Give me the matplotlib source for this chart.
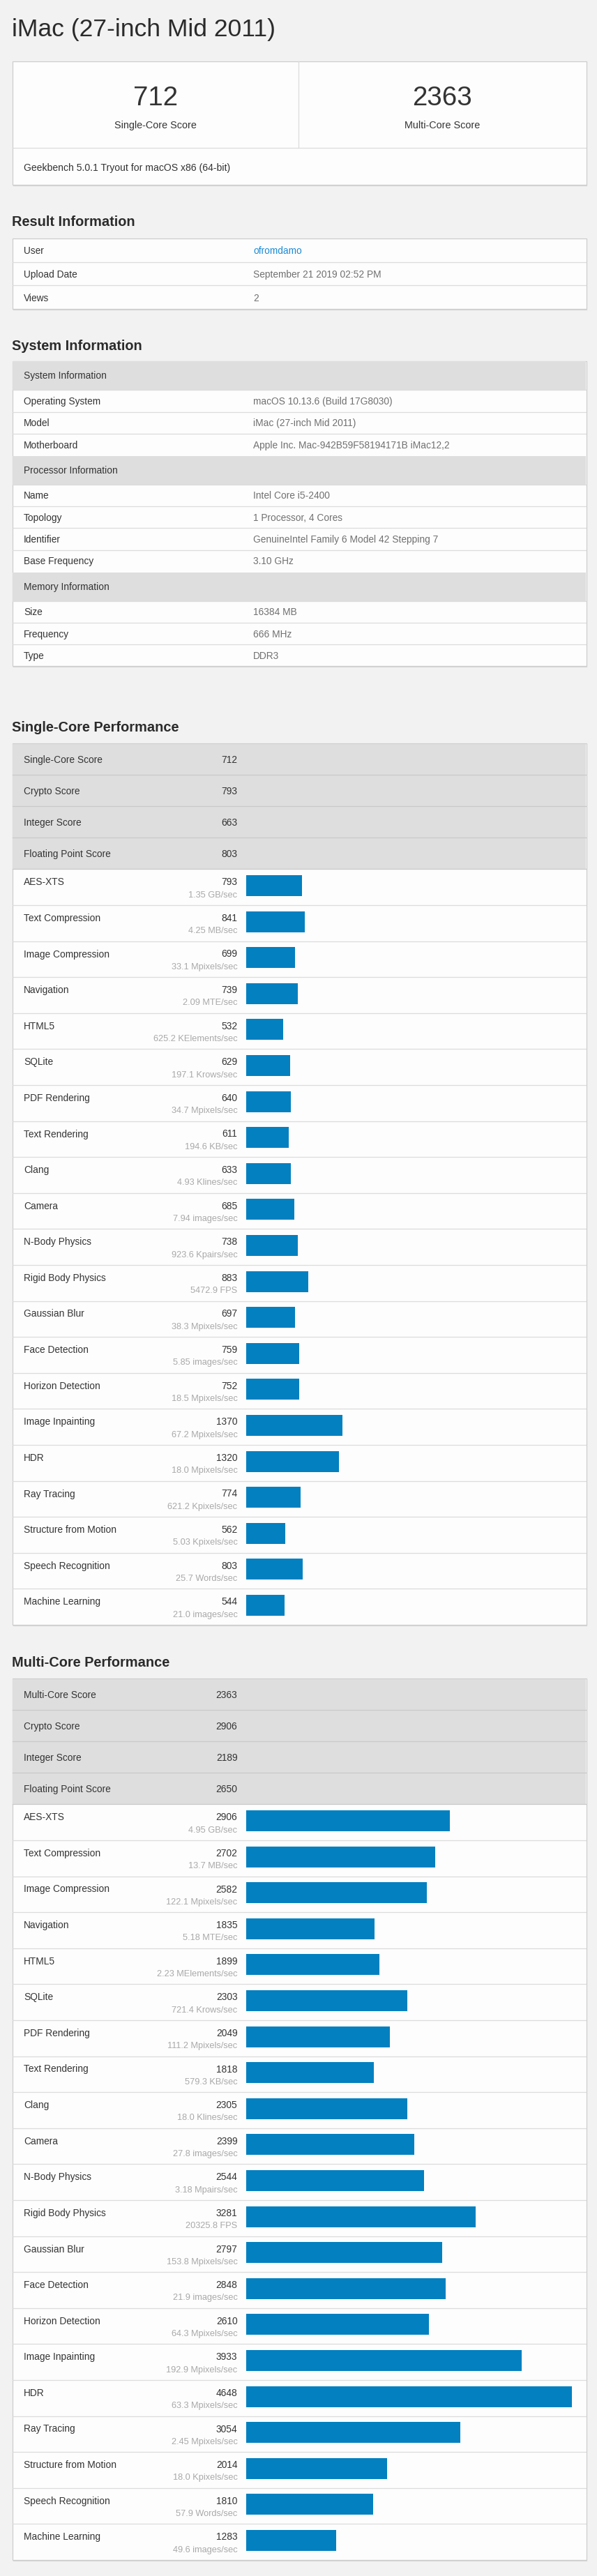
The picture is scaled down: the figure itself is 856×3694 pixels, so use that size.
import matplotlib
matplotlib.use('Agg')
import matplotlib.pyplot as plt
from matplotlib.patches import Rectangle

# Fonts: Helvetica-like page
plt.rcParams['font.family'] = ['Liberation Sans', 'DejaVu Sans']

# ---- data -------------------------------------------------------------
page_title = 'iMac (27-inch Mid 2011)'
single_score = 712
multi_score = 2363
version_text = 'Geekbench 5.0.1 Tryout for macOS x86 (64-bit)'

result_labels = ['User', 'Upload Date', 'Views']
result_values = ['ofromdamo', 'September 21 2019 02:52 PM', '2']

# (label, value); value None marks a grey header row
system_rows = [
    ('System Information', None),
    ('Operating System', 'macOS 10.13.6 (Build 17G8030)'),
    ('Model', 'iMac (27-inch Mid 2011)'),
    ('Motherboard', 'Apple Inc. Mac-942B59F58194171B iMac12,2'),
    ('Processor Information', None),
    ('Name', 'Intel Core i5-2400'),
    ('Topology', '1 Processor, 4 Cores'),
    ('Identifier', 'GenuineIntel Family 6 Model 42 Stepping 7'),
    ('Base Frequency', '3.10 GHz'),
    ('Memory Information', None),
    ('Size', '16384 MB'),
    ('Frequency', '666 MHz'),
    ('Type', 'DDR3'),
]

summary_names_single = ['Single-Core Score', 'Crypto Score', 'Integer Score', 'Floating Point Score']
summary_single = [712, 793, 663, 803]
summary_names_multi = ['Multi-Core Score', 'Crypto Score', 'Integer Score', 'Floating Point Score']
summary_multi = [2363, 2906, 2189, 2650]

workloads = ['AES-XTS', 'Text Compression', 'Image Compression', 'Navigation', 'HTML5',
             'SQLite', 'PDF Rendering', 'Text Rendering', 'Clang', 'Camera',
             'N-Body Physics', 'Rigid Body Physics', 'Gaussian Blur', 'Face Detection',
             'Horizon Detection', 'Image Inpainting', 'HDR', 'Ray Tracing',
             'Structure from Motion', 'Speech Recognition', 'Machine Learning']

single_scores = [793, 841, 699, 739, 532, 629, 640, 611, 633, 685, 738, 883, 697,
                 759, 752, 1370, 1320, 774, 562, 803, 544]
single_units = ['1.35 GB/sec', '4.25 MB/sec', '33.1 Mpixels/sec', '2.09 MTE/sec',
                '625.2 KElements/sec', '197.1 Krows/sec', '34.7 Mpixels/sec',
                '194.6 KB/sec', '4.93 Klines/sec', '7.94 images/sec',
                '923.6 Kpairs/sec', '5472.9 FPS', '38.3 Mpixels/sec',
                '5.85 images/sec', '18.5 Mpixels/sec', '67.2 Mpixels/sec',
                '18.0 Mpixels/sec', '621.2 Kpixels/sec', '5.03 Kpixels/sec',
                '25.7 Words/sec', '21.0 images/sec']

multi_scores = [2906, 2702, 2582, 1835, 1899, 2303, 2049, 1818, 2305, 2399, 2544,
                3281, 2797, 2848, 2610, 3933, 4648, 3054, 2014, 1810, 1283]
multi_units = ['4.95 GB/sec', '13.7 MB/sec', '122.1 Mpixels/sec', '5.18 MTE/sec',
               '2.23 MElements/sec', '721.4 Krows/sec', '111.2 Mpixels/sec',
               '579.3 KB/sec', '18.0 Klines/sec', '27.8 images/sec',
               '3.18 Mpairs/sec', '20325.8 FPS', '153.8 Mpixels/sec',
               '21.9 images/sec', '64.3 Mpixels/sec', '192.9 Mpixels/sec',
               '63.3 Mpixels/sec', '2.45 Mpixels/sec', '18.0 Kpixels/sec',
               '57.9 Words/sec', '49.6 images/sec']

# ---- styling ----------------------------------------------------------
W, H = 856, 3694
BG = '#f2f2f2'
CARD = '#fdfdfd'
GREY_ROW = '#dedede'
BORDER = '#cdcdcd'
DIVIDER = '#dcdcdc'
BAR = '#0280c0'
DARK = '#333333'
MID = '#707070'
LIGHT = '#a9a9a9'
LINK = '#1a8ad4'

L, R = 18, 841          # card edges
TX = 34                 # left text column
VX = 363                # value column of info tables
NUM_X = 340.5           # right edge of score numbers
BAR_X0, BAR_W = 353, 472
BAR_MAX = 4700          # score that would fill BAR_W


def pt(px):
    return px * 0.72


fig = plt.figure(figsize=(W / 100, H / 100), dpi=100)
fig.patch.set_facecolor(BG)
page = fig.add_axes([0, 0, 1, 1])
page.set_xlim(0, W)
page.set_ylim(H, 0)
page.axis('off')


def card(top, bottom):
    page.add_patch(Rectangle((L, top), R - L, bottom - top, facecolor=CARD,
                             edgecolor=BORDER, linewidth=0.9, zorder=1))
    page.plot([L + 1, R], [bottom + 0.8, bottom + 0.8], color='#d8d8d8', lw=0.9, zorder=0.9)


def grey(top, bottom):
    page.add_patch(Rectangle((L + 0.5, top), R - L - 1, bottom - top,
                             facecolor=GREY_ROW, edgecolor='none', zorder=1.5))


def hline(y, color=DIVIDER):
    page.plot([L + 0.5, R - 0.5], [y, y], color=color, lw=0.9, zorder=2)


def txt(x, y, s, size=13.7, color=DARK, ha='left', weight='normal'):
    page.text(x, y, s, fontsize=pt(size), color=color, ha=ha, va='baseline',
              fontweight=weight, zorder=5)


def heading(y, s):
    txt(17, y, s, size=20, weight='bold', color='#2b2b2b')


# ---- title + score card ----------------------------------------------
txt(17, 52, page_title, size=35.5, color='#2b2b2b')

card(87.7, 265)
page.plot([428.5, 428.5], [88, 212], color=DIVIDER, lw=0.9, zorder=2)
hline(212)
txt(223, 150.7, str(single_score), size=38.5, ha='center')
txt(634.5, 150.7, str(multi_score), size=38.5, ha='center')
txt(223, 183.6, 'Single-Core Score', size=14.4, ha='center')
txt(634.5, 183.6, 'Multi-Core Score', size=14.4, ha='center')
txt(TX, 245, version_text, size=14)

# ---- result information ----------------------------------------------
heading(324.2, 'Result Information')
r_top, r_h = 342, 33.7
card(r_top, r_top + r_h * len(result_labels))
for i, (lab, val) in enumerate(zip(result_labels, result_values)):
    y0 = r_top + i * r_h
    if i:
        hline(y0)
    txt(TX, y0 + r_h / 2 + 5.5, lab)
    txt(VX, y0 + r_h / 2 + 5.5, val, color=LINK if i == 0 else MID)

# ---- system information ----------------------------------------------
heading(502.2, 'System Information')
s_top = 517.7
heights = [41.6 if v is None else 31.3 for _, v in system_rows]
card(s_top, s_top + sum(heights))
y0 = s_top
for (lab, val), h in zip(system_rows, heights):
    if val is None:
        grey(y0 + 0.5, y0 + h)
    elif y0 > s_top:
        hline(y0)
    txt(TX, y0 + h / 2 + 5, lab)
    if val is not None:
        txt(VX, y0 + h / 2 + 5, val, color=MID)
    y0 += h


# ---- performance sections --------------------------------------------
def perf_section(head_y, top, sum_names, sum_vals, scores, units):
    heading(head_y, sum_names[0].replace('Score', 'Performance'))
    sh, rh = 45, 51.6
    bars_top = top + sh * len(sum_names)
    bottom = bars_top + rh * len(workloads)
    card(top, bottom)
    for i, (lab, val) in enumerate(zip(sum_names, sum_vals)):
        y0 = top + i * sh
        grey(y0 + 0.5, y0 + sh)
        if i:
            hline(y0, '#c9c9c9')
        txt(TX, y0 + sh / 2 + 5, lab)
        txt(NUM_X, y0 + sh / 2 + 5, str(val), ha='right')
    hline(bars_top, '#c9c9c9')
    for i, (lab, sc, un) in enumerate(zip(workloads, scores, units)):
        y0 = bars_top + i * rh
        if i:
            hline(y0)
        txt(TX, y0 + 23, lab)
        txt(NUM_X, y0 + 23, str(sc), ha='right')
        txt(NUM_X, y0 + 40.3, un, size=12.8, color=LIGHT, ha='right')

    # bars through their own axes
    n = len(workloads)
    ax = fig.add_axes([BAR_X0 / W, 1 - bottom / H, BAR_W / W, (bottom - bars_top) / H])
    ax.patch.set_visible(False)
    ax.barh(range(n), scores, height=30 / rh, color=BAR, left=0)
    ax.set_xlim(0, BAR_MAX)
    ax.set_ylim(n - 0.459, -0.459)
    ax.axis('off')
    ax.set_zorder(10)


perf_section(1048.9, 1066.3, summary_names_single, summary_single, single_scores, single_units)
perf_section(2389.5, 2407.3, summary_names_multi, summary_multi, multi_scores, multi_units)

fig.savefig('out.png', dpi=100, facecolor=BG)
